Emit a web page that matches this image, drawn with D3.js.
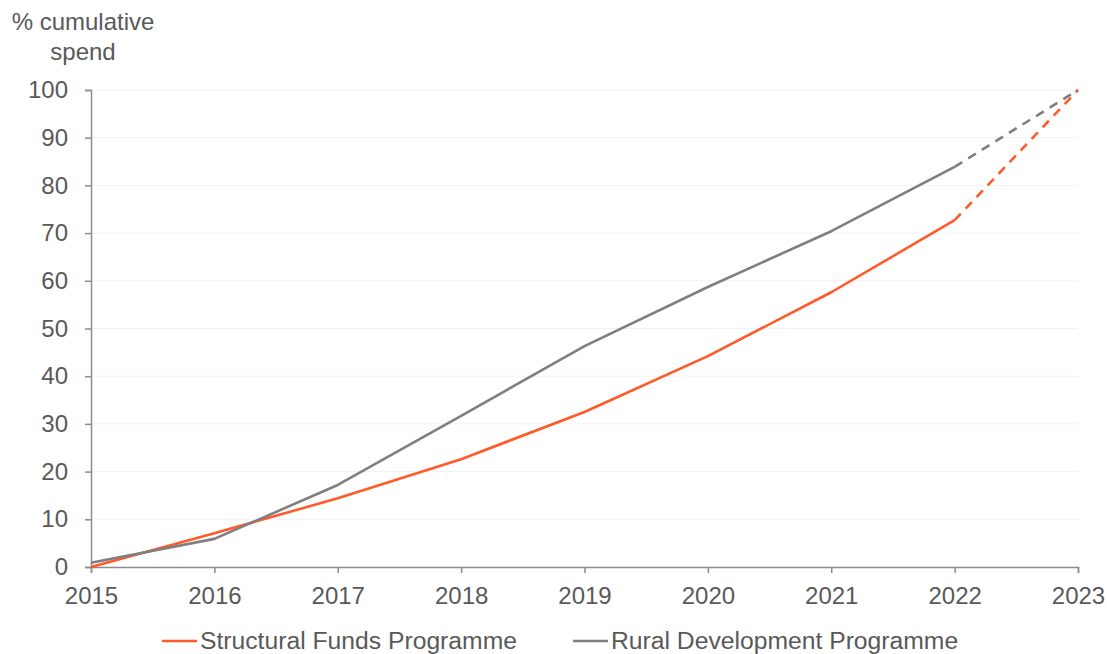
<!DOCTYPE html>
<meta charset="utf-8">
<script src="https://d3js.org/d3.v7.min.js"></script>
<style>
  body { margin: 0; background: #fff; }
  text { font-family: "Liberation Sans", Arial, sans-serif; fill: #595959; }
</style>
<div id="chart"></div>
<script>
// data
var years = [2015, 2016, 2017, 2018, 2019, 2020, 2021, 2022, 2023];
var structural = [0, 7.1, 14.4, 22.6, 32.5, 44.2, 57.6, 72.7, 100];
var rural = [0.9, 5.9, 17.2, 31.7, 46.3, 58.7, 70.4, 83.9, 100];
var yTicks = [0, 10, 20, 30, 40, 50, 60, 70, 80, 90, 100];
var seriesNames = ["Structural Funds Programme", "Rural Development Programme"];
var colors = ["#FF5A28", "#7F7F7F"];
var lastActual = 2022; // after this year the line is a projection (dashed)

var W = 1107, H = 654;
var margin = {top: 90, right: 29, bottom: 87, left: 91};
var width = W - margin.left - margin.right,
    height = H - margin.top - margin.bottom;

var svg = d3.select("#chart").append("svg")
    .attr("width", W).attr("height", H);
var g = svg.append("g")
    .attr("transform", "translate(" + margin.left + "," + margin.top + ")");

var x = d3.scaleLinear().domain([2015, 2023]).range([0, width]);
var y = d3.scaleLinear().domain([0, 100]).range([height, 0]);

// gridlines
g.append("g").selectAll("line").data(yTicks.filter(d => d > 0)).enter()
  .append("line")
    .attr("x1", 0).attr("x2", width)
    .attr("y1", d => y(d)).attr("y2", d => y(d))
    .attr("stroke", "#F2F2F2").attr("stroke-width", 1);

// y axis
var yAxis = g.append("g")
  .call(d3.axisLeft(y).tickValues(yTicks).tickSize(6).tickPadding(17));
yAxis.select(".domain").attr("stroke", "#8C8C8C").attr("stroke-width", 1.5);
yAxis.selectAll(".tick line").attr("stroke", "#8C8C8C").attr("stroke-width", 1.5);
yAxis.selectAll("text").style("font-size", "24px").attr("fill", "#595959");

// x axis
var xAxis = g.append("g")
  .attr("transform", "translate(0," + height + ")")
  .call(d3.axisBottom(x).tickValues(years).tickFormat(d3.format("d")).tickSize(6).tickPadding(14));
xAxis.select(".domain").attr("stroke", "#8C8C8C").attr("stroke-width", 1.5);
xAxis.selectAll(".tick line").attr("stroke", "#8C8C8C").attr("stroke-width", 1.5);
xAxis.selectAll("text").style("font-size", "24px").attr("fill", "#595959");

// lines
var line = d3.line()
    .x(d => x(d.year)).y(d => y(d.v));

[structural, rural].forEach(function(vals, i) {
  var pts = years.map((yr, j) => ({year: yr, v: vals[j]}));
  var actual = pts.filter(d => d.year <= lastActual);
  var proj = pts.filter(d => d.year >= lastActual);
  g.append("path").datum(actual)
    .attr("fill", "none").attr("stroke", colors[i])
    .attr("stroke-width", 2.6).attr("stroke-linejoin", "round")
    .attr("d", line);
  g.append("path").datum(proj)
    .attr("fill", "none").attr("stroke", colors[i])
    .attr("stroke-width", 2.6).attr("stroke-dasharray", "9,7")
    .attr("d", line);
});

// y axis title
var title = svg.append("text").attr("text-anchor", "middle").style("font-size", "24px");
title.append("tspan").attr("x", 83).attr("y", 30).text("% cumulative");
title.append("tspan").attr("x", 83).attr("y", 60).text("spend");

// legend
var legX = [162, 573];
seriesNames.forEach(function(name, i) {
  svg.append("line")
    .attr("x1", legX[i]).attr("x2", legX[i] + 35)
    .attr("y1", 641).attr("y2", 641)
    .attr("stroke", colors[i]).attr("stroke-width", 2.6);
  svg.append("text")
    .attr("x", legX[i] + 38).attr("y", 649)
    .style("font-size", "24.7px")
    .text(name);
});
</script>
